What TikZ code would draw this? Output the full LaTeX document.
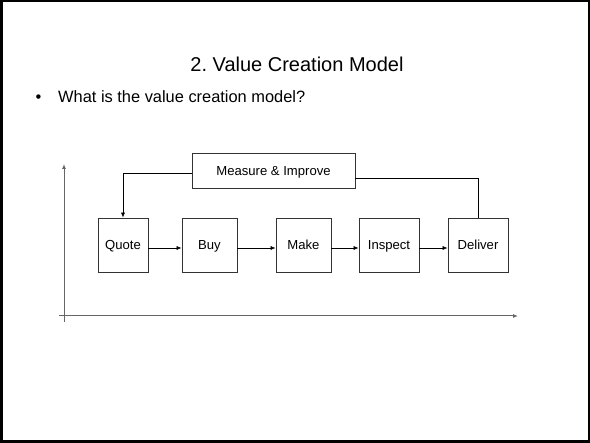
\documentclass[tikz,border=0pt]{standalone}
\usepackage{fontspec}
\setmainfont{Liberation Sans}
\usetikzlibrary{arrows.meta}

\definecolor{linegray}{HTML}{333333}
\definecolor{axisgray}{HTML}{666666}

\begin{document}
\begin{tikzpicture}[x=1pt, y=-1pt, >={Latex[length=5pt,width=4pt]}]
    \useasboundingbox (0,0) rectangle (590,443);
    \draw[line width=2.5pt] (1.25,1.25) rectangle (588.75,441.75);

    \node[font=\fontsize{20}{24}\selectfont\frenchspacing, anchor=base] (title) at (297,71.5) {2. Value Creation Model};
    \node[font=\fontsize{16.4}{20}\selectfont, anchor=base] (dot) at (38.5,103) {\textbullet};
    \node[font=\fontsize{16.4}{20}\selectfont, anchor=base west, inner sep=0pt] (question) at (58,103) {What is the value creation model?};

    \begin{scope}[all/.style={draw=linegray, fill=white, minimum height=54pt, inner sep=0pt,
                  text height=9.4pt, text depth=0pt, font=\fontsize{13.1}{15}\selectfont}, line width=0.7pt]

        % axes
        \coordinate (ybot) at (64,322);
        \coordinate (ytop) at (64,164);
        \coordinate (xleft) at (59,316);
        \coordinate (xright) at (518,316);
        \draw[->, color=axisgray, line width=1pt] (ybot) -- (ytop);
        \draw[->, color=axisgray, line width=1pt] (xleft) -- (xright);

        \node[all, minimum width=50pt] (quote) at (123,245) {Quote};
        \node[all, minimum width=55pt] (buy) at (209.5,245) {Buy};
        \node[all, minimum width=55pt] (make) at (303.5,245) {Make};
        \node[all, minimum width=60pt] (inspect) at (389,245) {Inspect};
        \node[all, minimum width=60pt] (deliver) at (478,245) {Deliver};

        \node[all, minimum width=163pt, minimum height=35pt] (measure) at (273.5,170.5) {Measure \& Improve};

        \begin{scope}[line width=0.6pt]
        \path[->] ([yshift=-3pt]quote.east) edge ([yshift=-3pt]buy.west);
        \path[->] ([yshift=-3pt]buy.east) edge ([yshift=-3pt]make.west);
        \path[->] ([yshift=-3pt]make.east) edge ([yshift=-3pt]inspect.west);
        \path[->] ([yshift=-3pt]inspect.east) edge ([yshift=-3pt]deliver.west);
        \end{scope}

        % feedback loop
        \draw[->] ([yshift=-2.5pt]measure.west) -| (quote.north);
        \draw ([yshift=-7.5pt]measure.east) -| (deliver.north);
    \end{scope}
\end{tikzpicture}
\end{document}
